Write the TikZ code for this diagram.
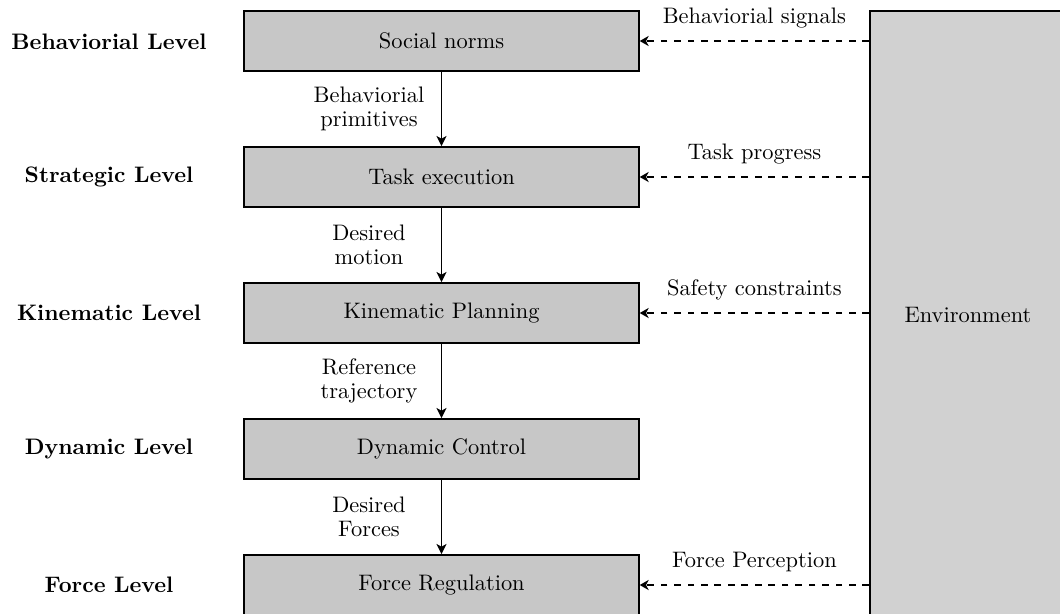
\documentclass[tikz,border=0pt]{standalone}
\usetikzlibrary{arrows.meta}
\begin{document}
\begin{tikzpicture}[x=0.446pt,y=-0.446pt,
  levelbox/.style={draw=black,line width=0.8pt,fill=black!22,minimum width=176pt,minimum height=26.8pt,inner sep=0pt},
  envbox/.style={draw=black,line width=0.8pt,fill=black!18,minimum width=87.4pt,minimum height=270.7pt,inner sep=0pt},
  levelname/.style={font=\bfseries},
  flowlabel/.style={align=center,font=\fontsize{10}{10.7}\selectfont},
  flow/.style={line width=0.7pt,-{Stealth[length=4.5pt,width=4.5pt,inset=1.2pt]}},
  feedback/.style={line width=0.7pt,dashed,-{Stealth[length=4pt,width=4.5pt,inset=1.2pt]}},
  feedlabel/.style={above=2pt}
]
\clip (0,0) rectangle (1060,613);

% control hierarchy
\node[levelbox] (b1) at (441.5,41)  {Social norms};
\node[levelbox] (b2) at (441.5,177) {Task execution};
\node[levelbox] (b3) at (441.5,313) {Kinematic Planning};
\node[levelbox] (b4) at (441.5,449) {Dynamic Control};
\node[levelbox] (b5) at (441.5,585) {Force Regulation};

% level names
\node[levelname] (l1) at (109,42)  {Behaviorial Level};
\node[levelname] (l2) at (109,177) {Strategic Level};
\node[levelname] (l3) at (109,313) {Kinematic Level};
\node[levelname] (l4) at (109,449) {Dynamic Level};
\node[levelname] (l5) at (109,585) {Force Level};

% environment
\node[envbox] (env) at (968,314.5) {Environment};

% downward flow between levels
\draw[flow] (b1) -- (b2);
\draw[flow] (b2) -- (b3);
\draw[flow] (b3) -- (b4);
\draw[flow] (b4) -- (b5);
\node[flowlabel] (f1) at (369,109) {Behaviorial\\primitives};
\node[flowlabel] (f2) at (369,245) {Desired\\motion};
\node[flowlabel] (f3) at (369,381) {Reference\\trajectory};
\node[flowlabel] (f4) at (369,517) {Desired\\Forces};

% feedback from the environment
\draw[feedback] (env.west |- b1) -- (b1.east) node[midway,feedlabel] {Behaviorial signals};
\draw[feedback] (env.west |- b2) -- (b2.east) node[midway,feedlabel] {Task progress};
\draw[feedback] (env.west |- b3) -- (b3.east) node[midway,feedlabel] {Safety constraints};
\draw[feedback] (env.west |- b5) -- (b5.east) node[midway,feedlabel] {Force Perception};
\end{tikzpicture}
\end{document}
